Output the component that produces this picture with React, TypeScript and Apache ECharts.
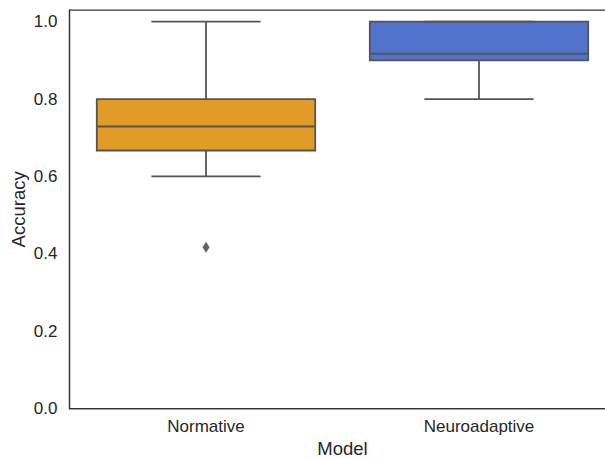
import React, { useEffect, useRef } from "react";
import * as echarts from "echarts";

const categories = ["Normative", "Neuroadaptive"];
const whiskerLow = [0.6, 0.8];
const q1 = [0.667, 0.9];
const median = [0.729, 0.917];
const q3 = [0.8, 1.0];
const whiskerHigh = [1.0, 1.0];
const boxColors = ["#E09C24", "#5273CD"];
const outliers: [number, number][] = [[0, 0.417]];
const yTicks = [0, 0.2, 0.4, 0.6, 0.8, 1.0];

const LINE = "#555555";
const TEXT = "#262626";
const FONT = "Liberation Sans, Arial, sans-serif";

export default function App() {
  const ref = useRef<HTMLDivElement>(null);
  useEffect(() => {
    if (!ref.current) return;
    const chart = echarts.init(ref.current, undefined, { renderer: "svg" });
    const boxData = categories.map((_, i) => [i, whiskerLow[i], q1[i], median[i], q3[i], whiskerHigh[i]]);
    chart.setOption({
      animation: false,
      backgroundColor: "#ffffff",
      grid: {
        left: 69.5,
        right: -10.5,
        top: 10,
        bottom: 49.3,
        show: true,
        borderColor: "#333333",
        borderWidth: 1.25,
        containLabel: false,
        outerBoundsMode: "none",
      },
      xAxis: {
        type: "category",
        data: categories,
        boundaryGap: true,
        name: "Model",
        nameLocation: "middle",
        nameGap: 40,
        nameMoveOverlap: false,
        nameTextStyle: {
          color: TEXT,
          fontSize: 18.5,
          fontFamily: FONT,
          verticalAlign: "middle",
          lineHeight: 17,
        },
        axisLine: { show: true, lineStyle: { color: "#333333", width: 1.25 } },
        axisTick: { show: false },
        axisLabel: { color: TEXT, fontSize: 17, fontFamily: FONT, margin: 9 },
        splitLine: { show: false },
      },
      yAxis: {
        type: "value",
        min: 0,
        max: 1.03,
        interval: 0.2,
        name: "Accuracy",
        nameLocation: "middle",
        nameGap: 42,
        nameMoveOverlap: false,
        nameTextStyle: { color: TEXT, fontSize: 18.5, fontFamily: FONT },
        axisLine: { show: true, lineStyle: { color: "#333333", width: 1.25 } },
        axisTick: { show: false },
        splitLine: { show: false },
        axisLabel: {
          color: TEXT,
          fontSize: 17,
          fontFamily: FONT,
          margin: 12,
          showMaxLabel: false,
          formatter: (v: number) =>
            yTicks.some((t) => Math.abs(t - v) < 1e-6) ? v.toFixed(1) : "",
        },
      },
      series: [
        {
          type: "custom",
          data: boxData,
          encode: { x: 0, y: [1, 2, 3, 4, 5] },
          renderItem: (params: any, api: any) => {
            const idx = api.value(0);
            const band = api.size([1, 0])[0];
            const bw = band * 0.8;
            const cw = bw * 0.5;
            const pLow = api.coord([idx, api.value(1)]);
            const pQ1 = api.coord([idx, api.value(2)]);
            const pMed = api.coord([idx, api.value(3)]);
            const pQ3 = api.coord([idx, api.value(4)]);
            const pHigh = api.coord([idx, api.value(5)]);
            const cx = pMed[0];
            const ls = { stroke: LINE, lineWidth: 1.8 };
            return {
              type: "group",
              children: [
                { type: "line", shape: { x1: cx, y1: pQ1[1], x2: cx, y2: pLow[1] }, style: ls },
                { type: "line", shape: { x1: cx, y1: pQ3[1], x2: cx, y2: pHigh[1] }, style: ls },
                {
                  type: "rect",
                  shape: { x: cx - bw / 2, y: pQ3[1], width: bw, height: pQ1[1] - pQ3[1] },
                  style: { fill: boxColors[idx], stroke: LINE, lineWidth: 1.8 },
                },
                { type: "line", shape: { x1: cx - bw / 2, y1: pMed[1], x2: cx + bw / 2, y2: pMed[1] }, style: ls },
                { type: "line", shape: { x1: cx - cw / 2, y1: pLow[1], x2: cx + cw / 2, y2: pLow[1] }, style: ls },
                { type: "line", shape: { x1: cx - cw / 2, y1: pHigh[1], x2: cx + cw / 2, y2: pHigh[1] }, style: ls },
              ],
            };
          },
          z: 2,
        },
        {
          type: "scatter",
          data: outliers,
          symbol: "diamond",
          symbolSize: [7, 11],
          itemStyle: { color: "#3d3d3d" },
          z: 3,
        },
      ],
    });
    return () => chart.dispose();
  }, []);
  return <div ref={ref} style={{ width: 605, height: 458, position: "absolute", left: 0, top: 0 }} />;
}
